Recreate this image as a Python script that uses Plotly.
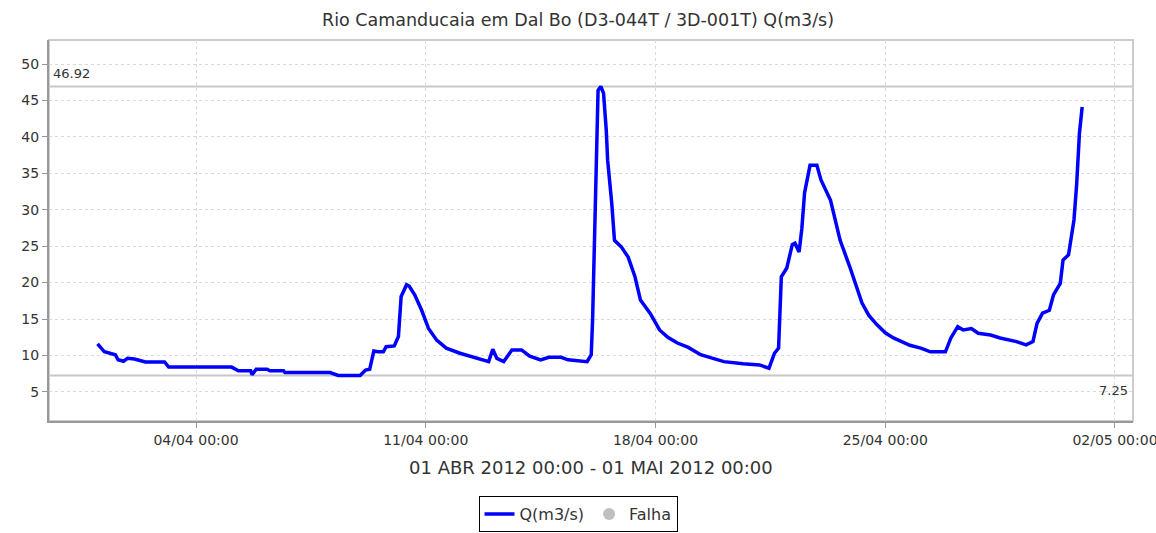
import plotly.graph_objects as go

# Vazão (Q, m3/s) — Rio Camanducaia em Dal Bo, abril de 2012
times = [
    "2012-04-01 00:00", "2012-04-01 05:00", "2012-04-01 13:00", "2012-04-01 15:00",
    "2012-04-01 19:00", "2012-04-01 22:00", "2012-04-02 03:00", "2012-04-02 08:00",
    "2012-04-02 11:00", "2012-04-03 01:00", "2012-04-03 04:00", "2012-04-05 02:00",
    "2012-04-05 07:00", "2012-04-05 16:00", "2012-04-05 17:00", "2012-04-05 20:00",
    "2012-04-06 04:00", "2012-04-06 06:00", "2012-04-06 16:00", "2012-04-06 17:00",
    "2012-04-08 02:00", "2012-04-08 08:00", "2012-04-09 00:00", "2012-04-09 04:00",
    "2012-04-09 07:00", "2012-04-09 10:00", "2012-04-09 13:00", "2012-04-09 17:00",
    "2012-04-09 19:00", "2012-04-10 01:00", "2012-04-10 04:00", "2012-04-10 06:00",
    "2012-04-10 10:00", "2012-04-10 12:00", "2012-04-10 16:00", "2012-04-10 21:00",
    "2012-04-11 02:00", "2012-04-11 08:00", "2012-04-11 15:00", "2012-04-12 01:00",
    "2012-04-12 11:00", "2012-04-12 22:00", "2012-04-13 01:00", "2012-04-13 04:00",
    "2012-04-13 09:00", "2012-04-13 15:00", "2012-04-13 22:00", "2012-04-14 04:00",
    "2012-04-14 12:00", "2012-04-14 18:00", "2012-04-15 03:00", "2012-04-15 08:00",
    "2012-04-15 22:00", "2012-04-16 01:00", "2012-04-16 02:00", "2012-04-16 04:00",
    "2012-04-16 05:00", "2012-04-16 06:00", "2012-04-16 08:00", "2012-04-16 10:00",
    "2012-04-16 12:00", "2012-04-16 13:00", "2012-04-16 16:00", "2012-04-16 18:00",
    "2012-04-16 23:00", "2012-04-17 04:00", "2012-04-17 09:00", "2012-04-17 13:00",
    "2012-04-17 20:00", "2012-04-18 03:00", "2012-04-18 09:00", "2012-04-18 16:00",
    "2012-04-19 00:00", "2012-04-19 09:00", "2012-04-19 18:00", "2012-04-20 02:00",
    "2012-04-20 16:00", "2012-04-21 04:00", "2012-04-21 11:00",
    "2012-04-21 15:00", "2012-04-21 18:00", "2012-04-21 20:00", "2012-04-22 00:00",
    "2012-04-22 04:00", "2012-04-22 06:00", "2012-04-22 09:00", "2012-04-22 11:00",
    "2012-04-22 13:00", "2012-04-22 17:00", "2012-04-22 22:00", "2012-04-23 01:00",
    "2012-04-23 08:00", "2012-04-23 15:00", "2012-04-23 22:00", "2012-04-24 07:00",
    "2012-04-24 12:00", "2012-04-24 18:00", "2012-04-25 00:00", "2012-04-25 06:00",
    "2012-04-25 18:00", "2012-04-26 02:00", "2012-04-26 09:00",
    "2012-04-26 20:00", "2012-04-27 00:00", "2012-04-27 05:00", "2012-04-27 09:00",
    "2012-04-27 15:00", "2012-04-27 20:00", "2012-04-28 05:00", "2012-04-28 12:00",
    "2012-04-29 00:00", "2012-04-29 07:00", "2012-04-29 12:00", "2012-04-29 15:00",
    "2012-04-29 19:00", "2012-04-30 00:00", "2012-04-30 03:00", "2012-04-30 08:00",
    "2012-04-30 10:00", "2012-04-30 14:00", "2012-04-30 18:00", "2012-04-30 20:00",
    "2012-04-30 22:00", "2012-05-01 00:00",
]
flow = [
    11.6, 10.5, 10.1, 9.4,
    9.2, 9.6, 9.5, 9.3,
    9.1, 9.1, 8.4, 8.4,
    7.9, 7.9, 7.35, 8.1,
    8.1, 7.9, 7.9, 7.65,
    7.65, 7.25, 7.25, 8.0,
    8.1, 10.6, 10.5, 10.5,
    11.2, 11.3, 12.6, 18.1,
    19.7, 19.5, 18.3, 16.2,
    13.7, 12.1, 11.0, 10.3,
    9.75, 9.15, 10.85, 9.6,
    9.15, 10.75, 10.75, 9.9,
    9.4, 9.75, 9.75, 9.4,
    9.15, 10.1, 14.9, 32.2,
    41.9, 46.4, 46.92, 46.0,
    40.9, 36.8, 30.9, 25.8,
    24.9, 23.5, 20.8, 17.6,
    15.8, 13.5, 12.5, 11.7,
    11.1, 10.1, 9.6, 9.15,
    8.85, 8.7, 8.25,
    10.3, 11.0, 20.8, 22.0,
    25.2, 25.4, 24.2, 27.4,
    32.3, 36.1, 36.1, 34.1,
    31.3, 25.8, 22.2, 17.2,
    15.5, 14.2, 13.1, 12.4,
    11.4, 11.0, 10.5,
    10.5, 12.4, 13.95, 13.5,
    13.7, 13.05, 12.8, 12.4,
    11.9, 11.45, 11.9, 14.4,
    15.8, 16.2, 18.3, 19.9,
    23.1, 23.8, 28.6, 33.6,
    40.5, 44.1,
]

# Limites de referência (máximo e mínimo do período)
max_q = 46.92
min_q = 7.25

x_ticks = ["2012-04-04", "2012-04-11", "2012-04-18", "2012-04-25", "2012-05-02"]
x_range = ["2012-03-30 12:30", "2012-05-02 13:10"]
y_ticks = [5, 10, 15, 20, 25, 30, 35, 40, 45, 50]
y_range = [1.0, 53.3]

title_text = "Rio Camanducaia em Dal Bo (D3-044T / 3D-001T) Q(m3/s)"
period_text = "01 ABR 2012 00:00 - 01 MAI 2012 00:00"

FONT = "DejaVu Sans"
TEXT = "#333333"

fig = go.Figure()
fig.add_trace(go.Scatter(
    x=times, y=flow, mode="lines", name="Q(m3/s)",
    line=dict(color="#0000ff", width=3.5),
))
fig.add_trace(go.Scatter(
    x=[None], y=[None], mode="markers", name="Falha",
    marker=dict(color="#c0c0c0", size=12, symbol="circle"),
))

# Linhas horizontais de máximo e mínimo
for val in (max_q, min_q):
    fig.add_shape(type="line", xref="paper", yref="y", x0=0, x1=1, y0=val, y1=val,
                  line=dict(color="#c8c8c8", width=2), layer="below")

fig.add_annotation(xref="paper", yref="y", x=0.002, y=max_q, text=f"{max_q:.2f}",
                   showarrow=False, xanchor="left", yanchor="bottom", yshift=3,
                   font=dict(family=FONT, size=13, color=TEXT))
fig.add_annotation(xref="paper", yref="y", x=0.9975, y=min_q, text=f"{min_q:.2f}",
                   showarrow=False, xanchor="right", yanchor="top", yshift=-6,
                   font=dict(family=FONT, size=13, color=TEXT))

# Moldura da área do gráfico
fig.add_shape(type="rect", xref="paper", yref="paper", x0=0, x1=1, y0=0, y1=1,
              line=dict(color="#cccccc", width=2), layer="below")

fig.add_annotation(xref="paper", yref="paper", x=0.5, y=-0.09, text=period_text,
                   showarrow=False, xanchor="center", yanchor="top",
                   font=dict(family=FONT, size=18, color=TEXT))

fig.update_layout(
    width=1156, height=533, autosize=False,
    margin=dict(l=49, r=23, t=40, b=112, autoexpand=False),
    paper_bgcolor="white", plot_bgcolor="white",
    title=dict(text=title_text, x=0.5, xref="container", xanchor="center",
               y=0.962, yanchor="middle",
               font=dict(family=FONT, size=17.5, color=TEXT)),
    font=dict(family=FONT, size=14, color=TEXT),
    showlegend=True,
    legend=dict(orientation="h", x=0.5, xref="container", xanchor="center",
                y=-0.197, yanchor="top",
                bordercolor="#000000", borderwidth=1, bgcolor="white",
                font=dict(family=FONT, size=16, color=TEXT),
                itemwidth=30, tracegroupgap=0),
)
fig.update_xaxes(
    type="date", range=x_range, tickvals=x_ticks, tickformat="%d/%m %H:%M",
    automargin=False, ticklabeloverflow="allow",
    showgrid=True, gridcolor="#d9d9d9", griddash="3px,3px", gridwidth=1,
    showline=True, linecolor="#999999", linewidth=2,
    ticks="outside", ticklen=5, tickcolor="#999999",
    zeroline=False, tickfont=dict(family=FONT, size=14, color=TEXT),
)
fig.update_yaxes(
    range=y_range, tickvals=y_ticks, automargin=False,
    showgrid=True, gridcolor="#d9d9d9", griddash="3px,3px", gridwidth=1,
    showline=True, linecolor="#999999", linewidth=2,
    ticks="outside", ticklen=5, tickcolor="#999999",
    zeroline=False, tickfont=dict(family=FONT, size=14, color=TEXT),
)

fig.write_html("out.html")
